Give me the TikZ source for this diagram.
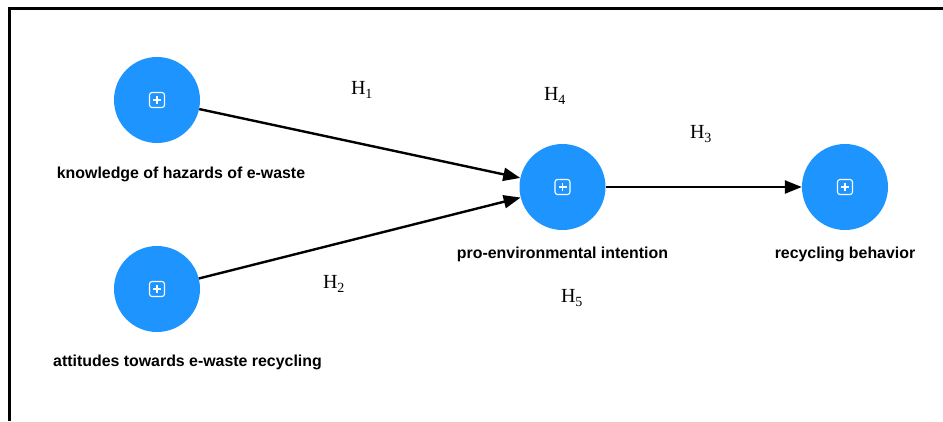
\documentclass[tikz,border=0pt]{standalone}
\usepackage{fontspec}
\setmainfont{Liberation Serif}
\newfontfamily\lblfont{Liberation Sans}
\usetikzlibrary{arrows.meta,calc}
\definecolor{lvblue}{RGB}{30,148,255}
\tikzset{
  latent/.style={circle, fill=lvblue, minimum size=86pt, inner sep=0pt},
  lbl/.style={font=\lblfont\bfseries\fontsize{15.9}{18}\selectfont, inner sep=0pt},
  hyp/.style={font=\fontsize{20}{22}\selectfont, inner sep=0pt},
  path/.style={line width=2.4pt, -{Triangle[length=17pt,width=13pt]}},
  frame/.style={line width=2.5pt, black}
}
\newcommand{\plusicon}[1]{%
  \draw[white, line width=1.1pt, rounded corners=2.5pt] ($(#1)+(-7.5,-7.5)$) rectangle ($(#1)+(7.5,7.5)$);
  \draw[white, line width=1.1pt] ($(#1)+(-4,0)$) -- ($(#1)+(4,0)$) ($(#1)+(0,-4)$) -- ($(#1)+(0,4)$);
}
\begin{document}
\begin{tikzpicture}[x=1pt,y=-1pt]
\useasboundingbox (0,0) rectangle (943,421);
\draw[frame] (9.5,421) -- (9.5,8.5) -- (943,8.5);

\node[latent] (k) at (157,100) {};
\node[latent] (a) at (157,289) {};
\node[latent] (p) at (562.5,187) {};
\node[latent] (r) at (845,187) {};
\plusicon{k}
\plusicon{a}
\plusicon{p}
\plusicon{r}

\node[lbl] (kl) at (181,174.5) {knowledge of hazards of e-waste};
\node[lbl] (al) at (187.5,362.5) {attitudes towards e-waste recycling};
\node[lbl] (pl) at (562.5,254.5) {pro-environmental intention};
\node[lbl] (rl) at (845,254.5) {recycling behavior};

\draw[path] (k) -- (p);
\draw[path] (a) -- (p);
\draw[path] (p) -- (r);

\node[hyp] (h1) at (362,90) {H\textsubscript{1}};
\node[hyp] (h2) at (334,284) {H\textsubscript{2}};
\node[hyp] (h3) at (701,134) {H\textsubscript{3}};
\node[hyp] (h4) at (555,96) {H\textsubscript{4}};
\node[hyp] (h5) at (572,298) {H\textsubscript{5}};
\end{tikzpicture}
\end{document}
